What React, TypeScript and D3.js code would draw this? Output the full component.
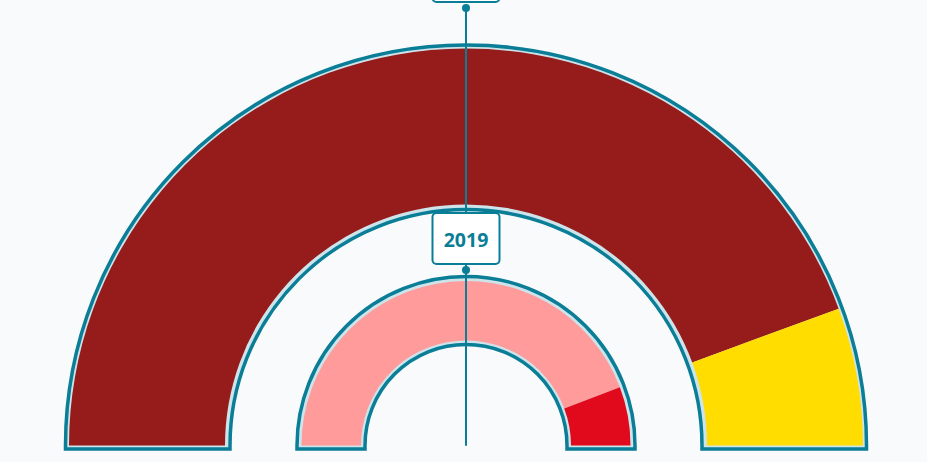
import React from 'react'
import * as d3 from 'd3'

// election ring data (share of seats)
const outerParties = ['Main', 'Other']
const outerValues = [88.8, 11.2]
const outerColors = ['#961c1c', '#ffdd00']

const innerParties = ['Main', 'Other']
const innerValues = [88.5, 11.5]
const innerColors = ['#ff9b9b', '#e00a1c']

const ringLabels = ['2024', '2019']

const W = 927
const H = 462
const cx = 466
const cy = 445.5
const teal = '#0a7d97'
const band = '#cde4eb'

const rings = [
  { values: outerValues, colors: outerColors, names: outerParties, label: ringLabels[0], bgIn: 236, bgOut: 400.5, dIn: 241, dOut: 397, dotY: 8 },
  { values: innerValues, colors: innerColors, names: innerParties, label: ringLabels[1], bgIn: 101, bgOut: 169, dIn: 105, dOut: 164.5, dotY: 270 }
]

// background shape: half annulus with a short flat foot under the baseline
function bgPath(ri: number, ro: number, foot: number) {
  const p = d3.path()
  p.moveTo(-ro, foot)
  p.lineTo(-ro, 0)
  p.arc(0, 0, ro, Math.PI, 0)
  p.lineTo(ro, foot)
  p.lineTo(ri, foot)
  p.lineTo(ri, 0)
  p.arc(0, 0, ri, 0, Math.PI, true)
  p.lineTo(-ri, foot)
  p.closePath()
  return p.toString()
}

const App: React.FC = () => {
  const pie = d3.pie<number>().sort(null).startAngle(-Math.PI / 2).endAngle(Math.PI / 2)

  return (
    <div style={{ position: 'absolute', left: 0, top: 0 }}>
      <svg width={W} height={H} style={{ display: 'block', background: '#f8fafc' }}>
        <g transform={`translate(${cx},${cy})`}>
          {rings.map((r, ri) => {
            const arc = d3.arc<d3.PieArcDatum<number>>().innerRadius(r.dIn).outerRadius(r.dOut)
            return (
              <g key={ri}>
                <path d={bgPath(r.bgIn, r.bgOut, 3.5)} fill={band} stroke={teal} strokeWidth={3.5} strokeLinejoin="miter" />
                {pie(r.values).map((d, i) => (
                  <path key={i} d={arc(d) || ''} fill={r.colors[i]} />
                ))}
              </g>
            )
          })}
          {rings.map((r, ri) => (
            <g key={'l' + ri}>
              <line x1={0} x2={0} y1={r.dotY - cy} y2={0} stroke={teal} strokeWidth={2} />
              <circle cx={0} cy={r.dotY - cy} r={4} fill={teal} />
              <rect x={-33.5} y={r.dotY - cy - 57} width={67} height={51} rx={4} fill="#ffffff" stroke={teal} strokeWidth={2} />
              <text x={0} y={r.dotY - cy - 31} textAnchor="middle" dominantBaseline="central"
                fontFamily="'Open Sans', sans-serif" fontWeight={700} fontSize={19.5} fill={teal}>
                {r.label}
              </text>
            </g>
          ))}
        </g>
      </svg>
    </div>
  )
}

export default App
